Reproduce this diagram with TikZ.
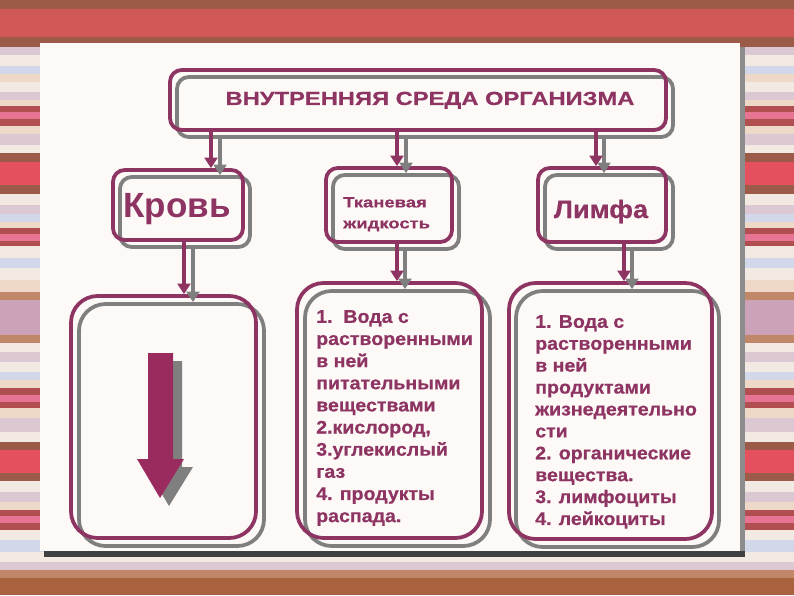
\documentclass[tikz,border=0pt]{standalone}
\usepackage{fontspec}
\setmainfont{Liberation Sans}
\newfontfamily\widefont{Liberation Sans}[FakeStretch=1.25,FakeBold=0.6]
\newfontfamily\midfont{Liberation Sans}[FakeStretch=1.07,FakeBold=0.6]
\usetikzlibrary{arrows.meta}

\definecolor{viola}{HTML}{8E3462}
\definecolor{grigio}{HTML}{7F7F7F}
\definecolor{freccia}{HTML}{9A2B5E}
\definecolor{pannello}{HTML}{FDF9F7}
\definecolor{bgbrown}{HTML}{9C5B48}
\definecolor{bgbrownb}{HTML}{A8623E}
\definecolor{bgred}{HTML}{D15858}
\definecolor{bgredb}{HTML}{E4505E}
\definecolor{bgdark}{HTML}{B04E50}
\definecolor{bgrose}{HTML}{E87494}
\definecolor{bglav}{HTML}{DCC8D2}
\definecolor{bgcream}{HTML}{F2EAE2}
\definecolor{bgblue}{HTML}{D2D8EA}
\definecolor{bgpeach}{HTML}{EED8C8}
\definecolor{bgtan}{HTML}{C08868}
\definecolor{bgmauve}{HTML}{CCA2B8}

\tikzset{
  pinkbox/.style={draw=viola, line width=3.2pt, rounded corners=#1, inner sep=0pt},
  pinkbox/.default=10pt,
  greybox/.style={draw=grigio, line width=3.2pt, rounded corners=#1, inner sep=0pt},
  greybox/.default=10pt,
  pinklink/.style={draw=viola, line width=3pt, -{Triangle[width=11pt,length=9pt]}},
  greylink/.style={draw=grigio, line width=3pt, -{Triangle[width=11pt,length=9pt]}},
  scritta/.style={text=viola, inner sep=0pt}
}

\begin{document}
\begin{tikzpicture}[x=0.03cm, y=-0.03cm]
    \useasboundingbox (0,0) rectangle (794,595);

    %%%%%%%%%% Sfondo %%%%%%%%%%
    \foreach \ya/\yb/\col in {0/9/bgbrown, 9/37/bgred, 37/47/bgbrown, 47/55/bglav,
        55/66/bgcream, 66/74/bgblue, 74/82/bgpeach, 82/92/bgcream, 92/100/bglav,
        100/106/bgpeach, 106/112/bgdark, 112/119/bgrose, 119/126/bgdark,
        126/134/bgpeach, 134/145/bglav, 145/153/bgcream, 153/162/bgbrown,
        162/185/bgredb, 185/194/bgbrown, 194/205/bgcream, 205/214/bglav,
        214/222/bgblue, 222/228/bgpeach, 228/234/bgdark, 234/241/bgrose,
        241/246/bgdark, 246/258/bgcream, 258/268/bgblue, 268/280/bgcream,
        280/292/bgpeach, 292/300/bgtan, 300/335/bgmauve, 335/343/bgtan,
        343/352/bgcream, 352/362/bglav, 362/372/bgcream, 372/380/bgblue,
        380/388/bgpeach, 388/395/bgdark, 395/402/bgrose, 402/408/bgdark,
        408/418/bgpeach, 418/432/bglav, 432/442/bgcream, 442/450/bgbrown,
        450/473/bgredb, 473/481/bgbrown, 481/492/bgcream, 492/502/bglav,
        502/510/bgpeach, 510/516/bgdark, 516/523/bgrose, 523/530/bgdark,
        530/540/bgcream, 540/552/bgblue, 552/562/bgcream, 562/570/bglav,
        570/578/bgtan, 578/595/bgbrownb}
        \fill[\col] (0,\ya) rectangle (794,\yb);

    \fill[black!45] (740,47) rectangle (745,551);
    \fill[black!75] (44,551) rectangle (745,557);
    \fill[pannello] (40,43) rectangle (740,551);

    %%%%%%%%%% Riquadri %%%%%%%%%%
    \node[greybox, minimum width=14.88cm, minimum height=1.8cm] (titleS) at (425,107) {};
    \node[pinkbox, minimum width=14.88cm, minimum height=1.8cm] (title) at (418,100) {};

    \node[greybox, minimum width=3.9cm, minimum height=2.1cm] (krovS) at (185,212) {};
    \node[pinkbox, minimum width=3.9cm, minimum height=2.1cm] (krov) at (178,205) {};
    \node[greybox, minimum width=3.78cm, minimum height=2.22cm] (tkanS) at (396,212) {};
    \node[pinkbox, minimum width=3.78cm, minimum height=2.22cm] (tkan) at (389,205) {};
    \node[greybox, minimum width=3.84cm, minimum height=2.22cm] (limfaS) at (609,212) {};
    \node[pinkbox, minimum width=3.84cm, minimum height=2.22cm] (limfa) at (602,205) {};

    \node[greybox=0.8cm, minimum width=5.55cm, minimum height=7.26cm] (krovboxS) at (171.5,425) {};
    \node[pinkbox=0.8cm, minimum width=5.55cm, minimum height=7.26cm] (krovbox) at (163.5,417) {};
    \node[greybox=0.8cm, minimum width=5.55cm, minimum height=7.65cm] (tkanboxS) at (397.5,418.5) {};
    \node[pinkbox=0.8cm, minimum width=5.55cm, minimum height=7.65cm] (tkanbox) at (389.5,410.5) {};
    \node[greybox=0.8cm, minimum width=6.09cm, minimum height=7.68cm] (limfaboxS) at (617.5,419) {};
    \node[pinkbox=0.8cm, minimum width=6.09cm, minimum height=7.68cm] (limfabox) at (610.5,411) {};

    %%%%%%%%%% Frecce %%%%%%%%%%
    \draw[greylink] (titleS.south -| 220,0) -- (krovS.north -| 220,0);
    \draw[pinklink] (title.south -| 211,0) -- (krov.north -| 211,0);
    \draw[greylink] (titleS.south -| 406,0) -- (tkanS.north -| 406,0);
    \draw[pinklink] (title.south -| 397,0) -- (tkan.north -| 397,0);
    \draw[greylink] (titleS.south -| 604,0) -- (limfaS.north -| 604,0);
    \draw[pinklink] (title.south -| 596,0) -- (limfa.north -| 596,0);

    \draw[greylink] (krovS.south -| 193,0) -- (krovboxS.north -| 193,0);
    \draw[pinklink] (krov.south -| 184,0) -- (krovbox.north -| 184,0);
    \draw[greylink] (tkanS.south -| 405,0) -- (tkanboxS.north -| 405,0);
    \draw[pinklink] (tkan.south -| 397,0) -- (tkanbox.north -| 397,0);
    \draw[greylink] (limfaS.south -| 632,0) -- (limfaboxS.north -| 632,0);
    \draw[pinklink] (limfa.south -| 624,0) -- (limfabox.north -| 624,0);

    % freccia grande
    \fill[grigio, shift={(9,8)}] (148,353) -- (173,353) -- (173,459) -- (184,459)
        -- (160,498) -- (137,459) -- (148,459) -- cycle;
    \fill[freccia] (148,353) -- (173,353) -- (173,459) -- (184,459)
        -- (160,498) -- (137,459) -- (148,459) -- cycle;

    %%%%%%%%%% Testo %%%%%%%%%%
    \node[scritta, anchor=base, font=\widefont\bfseries\fontsize{16.2}{19}\selectfont]
        (titletext) at (430,105) {ВНУТРЕННЯЯ СРЕДА ОРГАНИЗМА};
    \node[scritta, anchor=base, font=\bfseries\fontsize{29.9}{34}\selectfont]
        (krovtext) at (177,217) {Кровь};
    \node[scritta, anchor=north west, align=left, font=\widefont\bfseries\fontsize{12.6}{17.9}\selectfont]
        (tkantext) at (343,197) {Тканевая\\жидкость};
    \node[scritta, anchor=base, font=\midfont\bfseries\fontsize{21.6}{25}\selectfont]
        (limfatext) at (601,218) {Лимфа};

    \node[scritta, anchor=north west, align=left, font=\midfont\bfseries\fontsize{15.6}{18.9}\selectfont]
        (tkanlist) at (316,310) {1.\ \ Вода с\\растворенными\\в ней\\питательными\\веществами\\
        2.кислород,\\3.углекислый\\газ\\4. продукты\\распада.};
    \node[scritta, anchor=north west, align=left, font=\midfont\bfseries\fontsize{15.6}{18.7}\selectfont]
        (limfalist) at (535,315) {1. Вода с\\растворенными\\в ней\\продуктами\\жизнедеятельно\\
        сти\\2. органические\\вещества.\\3. лимфоциты\\4. лейкоциты};
\end{tikzpicture}
\end{document}
